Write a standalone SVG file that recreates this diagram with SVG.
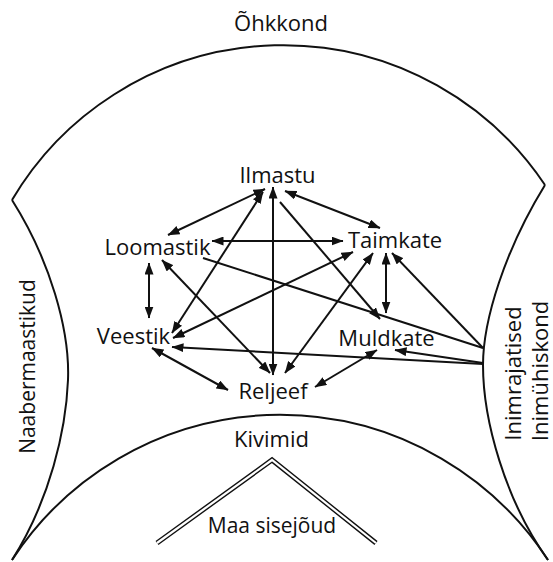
<svg xmlns="http://www.w3.org/2000/svg" width="553" height="562" viewBox="0 0 553 562">
<style>
text { font-family: "Open Sans", "Noto Sans", sans-serif; font-size: 22px; fill: #111; text-anchor: middle; }
.side { font-size: 21px; }
.bd { fill: none; stroke: #111; stroke-width: 2; }
.ar { fill: none; stroke: #111; stroke-width: 2; }
.bi { marker-start: url(#ah); marker-end: url(#ah); }
.to { marker-end: url(#ah); }
</style>
<defs>
<marker id="ah" viewBox="0 0 12 9" refX="11.5" refY="4.5" markerWidth="12" markerHeight="9" markerUnits="userSpaceOnUse" orient="auto-start-reverse">
<path d="M0,0 L12,4.5 L0,9 Z" fill="#111"/>
</marker>
</defs>
<rect width="553" height="562" fill="#fff"/>

<g id="boundaries">
<path class="bd" d="M12,200 A315,315 0 0 1 545,185"/>
<path class="bd" d="M12,200 C50,260 70,330 68,380 C66,430 50,500 12,560"/>
<path class="bd" d="M545,185 C505,250 483,320 483,365 C483,420 505,500 548,560"/>
<path class="bd" d="M12,560 A320,320 0 0 1 548,560"/>
</g>

<g id="roof">
<polyline points="157,543 272,460 376,543" fill="none" stroke="#111" stroke-width="5" stroke-linejoin="miter"/>
<polyline points="157,543 272,460 376,543" fill="none" stroke="#fff" stroke-width="2.2" stroke-linejoin="miter"/>
</g>

<g id="connectors">
<line class="ar bi" x1="265" y1="189" x2="168" y2="235"/>
<line class="ar bi" x1="263" y1="192" x2="172" y2="333"/>
<line class="ar bi" x1="273" y1="187" x2="273" y2="375"/>
<line class="ar to" x1="280" y1="202" x2="380" y2="319"/>
<line class="ar bi" x1="285" y1="191" x2="380" y2="228"/>
<line class="ar bi" x1="212" y1="241" x2="343" y2="241"/>
<line class="ar bi" x1="149" y1="263" x2="149" y2="318"/>
<line class="ar bi" x1="162" y1="260" x2="270" y2="373"/>
<line class="ar" x1="203" y1="258" x2="483" y2="348"/>
<line class="ar bi" x1="173" y1="338" x2="353" y2="252"/>
<line class="ar bi" x1="285" y1="373" x2="373" y2="253"/>
<line class="ar bi" x1="386" y1="253" x2="386" y2="313"/>
<line class="ar to" x1="483" y1="348" x2="392" y2="253"/>
<line class="ar to" x1="483" y1="363" x2="395" y2="350"/>
<line class="ar to" x1="483" y1="364" x2="172" y2="347"/>
<line class="ar bi" x1="152" y1="348" x2="228" y2="390"/>
<line class="ar bi" x1="315" y1="387" x2="377" y2="350"/>
</g>

<g id="ohkkond"><text x="281" y="31">Õhkkond</text></g>
<g id="ilmastu"><text x="277.5" y="183">Ilmastu</text></g>
<g id="loomastik"><text x="157.5" y="255">Loomastik</text></g>
<g id="taimkate"><text x="395" y="248">Taimkate</text></g>
<g id="veestik"><text x="133.5" y="344">Veestik</text></g>
<g id="muldkate"><text x="386.5" y="346">Muldkate</text></g>
<g id="reljeef"><text x="273" y="399">Reljeef</text></g>
<g id="kivimid"><text x="271.5" y="447">Kivimid</text></g>
<g id="maa-sisejoud"><text x="272" y="533" class="side">Maa sisejõud</text></g>
<g id="naabermaastikud"><text class="side" transform="translate(35,366.5) rotate(-90)">Naabermaastikud</text></g>
<g id="inimrajatised"><text transform="translate(521,373.5) rotate(-90)">Inimrajatised</text></g>
<g id="inimuhiskond"><text transform="translate(548,371) rotate(-90)">Inimühiskond</text></g>
</svg>
